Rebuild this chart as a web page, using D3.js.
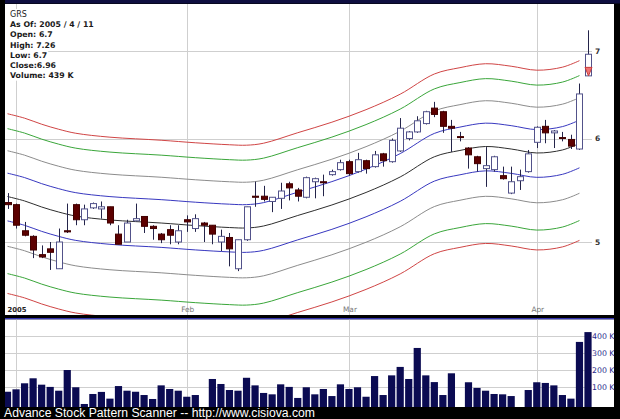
<!DOCTYPE html>
<html><head><meta charset="utf-8">
<script src="https://cdn.jsdelivr.net/npm/d3@7"></script>
<style>
html,body{margin:0;padding:0;background:#000;}
svg{display:block;font-family:"DejaVu Sans",Verdana,sans-serif;}
</style>
</head><body>
<svg id="c" width="620" height="419"></svg>
<script>
// ---------- data ----------
const dates = [
 "2004-12-31",
 "2005-01-03","2005-01-04","2005-01-05","2005-01-06","2005-01-07","2005-01-10","2005-01-11","2005-01-12","2005-01-13","2005-01-14",
 "2005-01-18","2005-01-19","2005-01-20","2005-01-21","2005-01-24","2005-01-25","2005-01-26","2005-01-27","2005-01-28","2005-01-31",
 "2005-02-01","2005-02-02","2005-02-03","2005-02-04","2005-02-07","2005-02-08","2005-02-09","2005-02-10","2005-02-11","2005-02-14",
 "2005-02-15","2005-02-16","2005-02-17","2005-02-18","2005-02-22","2005-02-23","2005-02-24","2005-02-25","2005-02-28",
 "2005-03-01","2005-03-02","2005-03-03","2005-03-04","2005-03-07","2005-03-08","2005-03-09","2005-03-10","2005-03-11","2005-03-14",
 "2005-03-15","2005-03-16","2005-03-17","2005-03-18","2005-03-21","2005-03-22","2005-03-23","2005-03-24","2005-03-28","2005-03-29",
 "2005-03-30","2005-03-31",
 "2005-04-01","2005-04-04","2005-04-05","2005-04-06","2005-04-07","2005-04-08","2005-04-11"
];
const open  = [5.36,5.34,5.10,5.05,4.89,4.94,4.77,5.10,5.34,5.20,5.31,5.30,5.32,5.07,5.00,5.19,5.23,5.14,5.07,5.11,5.00,
               5.20,5.12,5.17,5.15,5.00,5.04,4.77,5.02,5.42,5.42,5.37,5.40,5.54,5.48,5.41,5.56,5.56,5.63,5.68,
               5.76,5.66,5.77,5.71,5.84,5.76,5.87,6.00,6.07,6.16,6.33,6.29,6.13,6.02,5.90,5.81,5.69,5.68,5.62,5.45,5.57,5.66,
               5.96,6.13,6.06,6.01,5.99,5.89,6.70];
const high  = [5.45,5.35,5.18,5.06,4.97,5.00,5.12,5.35,5.35,5.34,5.36,5.37,5.32,5.15,5.20,5.35,5.23,5.15,5.08,5.15,5.15,
               5.24,5.25,5.18,5.15,5.11,5.08,5.02,5.32,5.56,5.52,5.41,5.55,5.56,5.50,5.61,5.60,5.63,5.68,5.78,
               5.78,5.85,5.78,5.87,5.85,6.00,6.22,6.08,6.24,6.30,6.40,6.30,6.20,6.07,5.91,5.82,5.91,5.82,5.71,5.71,5.68,5.88,
               6.13,6.20,6.09,6.07,6.04,6.61,7.26];
const low   = [5.30,5.12,5.05,4.86,4.86,4.76,4.77,5.08,5.15,5.15,5.30,5.21,5.15,4.98,5.00,5.19,5.08,5.02,4.99,4.98,4.98,
               5.09,5.09,5.00,4.98,4.92,4.79,4.75,5.01,5.32,5.37,5.27,5.30,5.38,5.37,5.40,5.40,5.42,5.62,5.67,
               5.62,5.65,5.64,5.70,5.71,5.75,5.86,5.98,6.06,6.15,6.23,6.06,5.86,5.97,5.69,5.66,5.51,5.66,5.58,5.44,5.48,5.65,
               5.90,5.95,5.90,5.97,5.89,5.88,6.70];
const close = [5.34,5.15,5.06,4.93,4.87,4.91,5.00,5.09,5.20,5.30,5.35,5.32,5.17,4.98,5.17,5.21,5.14,5.12,5.02,5.06,5.10,
               5.18,5.21,5.15,5.07,5.05,4.94,5.02,5.32,5.41,5.39,5.41,5.47,5.50,5.42,5.60,5.59,5.55,5.66,5.75,
               5.64,5.78,5.69,5.83,5.77,5.98,6.11,6.07,6.19,6.29,6.26,6.13,6.11,6.01,5.83,5.74,5.72,5.81,5.59,5.56,5.61,5.84,
               6.12,6.06,6.08,6.00,5.92,6.49,6.96];
const volumeK = [74,88,123,152,115,102,80,200,100,3,61,73,34,107,80,74,55,32,111,90,80,
                 45,55,0,148,119,84,80,155,111,67,59,117,102,38,100,59,90,49,117,
                 90,100,45,165,55,169,218,148,328,169,130,55,181,0,129,96,80,61,59,49,0,84,
                 129,125,111,55,34,363,420];
// centre line of the envelope (read at sample dates) and envelope widths
const midDates  = ["2004-12-31","2005-01-04","2005-01-06","2005-01-10","2005-01-12","2005-01-19","2005-01-27","2005-02-02",
                   "2005-02-08","2005-02-10","2005-02-14","2005-02-18","2005-02-25","2005-03-03","2005-03-09","2005-03-15",
                   "2005-03-18","2005-03-23","2005-03-29","2005-04-01","2005-04-06","2005-04-08"];
const midValues = [5.417,5.375,5.318,5.271,5.234,5.198,5.170,5.147,5.129,5.125,5.143,5.239,5.337,5.456,5.607,5.810,
                   5.875,5.916,5.890,5.849,5.880,5.948];
const bandPct = [0.042,0.084,0.127,0.157];
const priceTicks = [5,6,7];
const volumeTicks = [100,200,300,400];
const monthStarts = ["2005-01-03","2005-02-01","2005-03-01","2005-04-01"];
const monthLabels = ["2005","Feb","Mar","Apr"];
const legendLines = ["GRS","As Of: 2005 / 4 / 11","Open: 6.7","High: 7.26","Low: 6.7","Close:6.96","Volume: 439 K"];
const signalDates = ["2005-04-11"];
const signalPrices = [6.70];
const footerText = "Advance Stock Pattern Scanner -- http://www.cisiova.com";

// ---------- layout / style ----------
const W = 620, H = 419;
const P = {x0:5, x1:614, y0:4, y1:315};
const V = {x0:5, x1:614, y0:319.5, y1:407};
const bandColors = ["#3838c0","#8c8c8c","#3aa63a","#d04545"];
const midColor = "#2e2e2e";
const gridColor = "#cfcfcf";

const svg = d3.select("#c");
svg.append("rect").attr("width",W).attr("height",H).attr("fill","#000");
svg.append("rect").attr("x",5).attr("y",0).attr("width",615).attr("height",3.5).attr("fill","#0e0e40");
svg.append("rect").attr("x",P.x0).attr("y",P.y0).attr("width",P.x1-P.x0).attr("height",P.y1-P.y0).attr("fill","#fff");
svg.append("rect").attr("x",V.x0).attr("y",318).attr("width",V.x1-V.x0).attr("height",1.6).attr("fill","#3434b0");
svg.append("rect").attr("x",V.x0).attr("y",V.y0).attr("width",V.x1-V.x0).attr("height",V.y1-V.y0).attr("fill","#fff");

const defs = svg.append("defs");
defs.append("clipPath").attr("id","clipMain").append("rect")
  .attr("x",P.x0).attr("y",P.y0).attr("width",P.x1-P.x0).attr("height",P.y1-P.y0);
defs.append("clipPath").attr("id","clipVol").append("rect")
  .attr("x",V.x0).attr("y",V.y0).attr("width",V.x1-V.x0).attr("height",V.y1-V.y0);

// ---------- scales ----------
const x = d3.scalePoint().domain(dates).range([7.5, 588]);
const y = d3.scaleLog().domain([5,7]).range([242,51]);
const yv = d3.scaleLinear().domain([0,500]).range([404.5,318.3]);
const px = d => Math.round(x(d)) + 0.5;

// ---------- main panel ----------
const main = svg.append("g").attr("clip-path","url(#clipMain)");
main.selectAll("line.vg").data(monthStarts).join("line")
  .attr("x1",px).attr("x2",px).attr("y1",P.y0).attr("y2",P.y1)
  .attr("stroke",gridColor).attr("stroke-width",1);
main.selectAll("line.hg").data(priceTicks).join("line")
  .attr("x1",P.x0).attr("x2",592).attr("y1",d=>Math.round(y(d))+0.5).attr("y2",d=>Math.round(y(d))+0.5)
  .attr("stroke",gridColor).attr("stroke-width",1);

// envelope lines
const mid = midDates.map((d,i)=>({d, v:midValues[i]}));
const lineGen = f => d3.line().x(p=>x(p.d)).y(p=>y(f(p.v))).curve(d3.curveCatmullRom);
bandPct.forEach((pc,k)=>{
  [1,-1].forEach(s=>{
    main.append("path").datum(mid).attr("d",lineGen(v=>v*(1+s*pc)))
      .attr("fill","none").attr("stroke",bandColors[k]).attr("stroke-width",1);
  });
});
main.append("path").datum(mid).attr("d",lineGen(v=>v))
  .attr("fill","none").attr("stroke",midColor).attr("stroke-width",1);

// candles
const ohlc = dates.map((d,i)=>({d, o:open[i], h:high[i], l:low[i], c:close[i]}));
main.selectAll("line.wick").data(ohlc).join("line")
  .attr("x1",d=>px(d.d)).attr("x2",d=>px(d.d))
  .attr("y1",d=>y(d.h)).attr("y2",d=>y(d.l))
  .attr("stroke","#24244a").attr("stroke-width",1);
main.selectAll("rect.body").data(ohlc).join("rect")
  .attr("x",d=>px(d.d)-3).attr("width",6)
  .attr("y",d=>y(Math.max(d.o,d.c)))
  .attr("height",d=>Math.max(0.8, Math.abs(y(d.o)-y(d.c))))
  .attr("fill",d=>d.c>=d.o?"#fff":"#5c0000")
  .attr("stroke",d=>d.c>=d.o?"#52528a":"#420000").attr("stroke-width",1);

// pattern signal marker
const sig = signalDates.map((d,i)=>({d, p:signalPrices[i]}));
main.selectAll("path.sig").data(sig).join("path")
  .attr("d",s=>{const cx=px(s.d), cy=y(s.p); return `M${cx-3.5},${cy-8.5}L${cx+3.5},${cy-8.5}L${cx},${cy}Z`;})
  .attr("fill","#f07474").attr("stroke","#c83a3a").attr("stroke-width",1);

// price labels
svg.selectAll("text.pl").data(priceTicks).join("text")
  .attr("x",595).attr("y",d=>y(d)+2.8)
  .attr("font-size",7.5).attr("font-weight","bold").attr("fill","#333")
  .text(d=>d);

// month labels
svg.selectAll("text.ml").data(monthStarts).join("text")
  .attr("x",d=>x(d)+1).attr("y",311.5).attr("text-anchor","middle")
  .attr("font-size",(d,i)=>i===0?6.8:7.4)
  .attr("font-weight",(d,i)=>i===0?"bold":"normal")
  .attr("fill",(d,i)=>i===0?"#222":"#777")
  .text((d,i)=>monthLabels[i]);

// legend
const lg = svg.append("g");
legendLines.forEach((t,i)=>{
  const base = 17 + i*10.2;
  const bg = lg.append("rect").attr("fill","#fff");
  const tx = lg.append("text").attr("x",10).attr("y",base)
    .attr("font-size",i===0?8:7.8).attr("font-weight",i===0?"normal":"bold").attr("fill","#1a1a1a").text(t);
  const bb = tx.node().getBBox();
  bg.attr("x",P.x0).attr("y",base-8).attr("width",bb.x+bb.width+1-P.x0).attr("height",10.5);
});

// ---------- volume panel ----------
const vg = svg.append("g").attr("clip-path","url(#clipVol)");
vg.selectAll("line.vvg").data(monthStarts).join("line")
  .attr("x1",px).attr("x2",px).attr("y1",V.y0).attr("y2",V.y1)
  .attr("stroke",gridColor);
vg.selectAll("line.vhg").data(volumeTicks).join("line")
  .attr("x1",V.x0).attr("x2",590).attr("y1",d=>Math.round(yv(d))+0.5).attr("y2",d=>Math.round(yv(d))+0.5)
  .attr("stroke",gridColor);
const vols = dates.map((d,i)=>({d, v:volumeK[i]})).filter(o=>o.v>0);
vg.selectAll("rect.vb").data(vols).join("rect")
  .attr("x",d=>x(d.d)-3.6).attr("width",7.2)
  .attr("y",d=>yv(d.v)).attr("height",d=>V.y1-yv(d.v))
  .attr("fill","#0b0b52");
svg.selectAll("text.vl").data(volumeTicks).join("text")
  .attr("x",592).attr("y",d=>yv(d)+3)
  .attr("font-size",7.8).attr("fill","#2a2a8c")
  .text(d=>d+" K");

// footer
svg.append("text").attr("x",4).attr("y",416.6)
  .attr("font-family","'Liberation Sans',Arial,sans-serif")
  .attr("font-size",12.5).attr("fill","#fff")
  .attr("textLength",311).attr("lengthAdjust","spacingAndGlyphs")
  .text(footerText);
</script>
</body></html>
